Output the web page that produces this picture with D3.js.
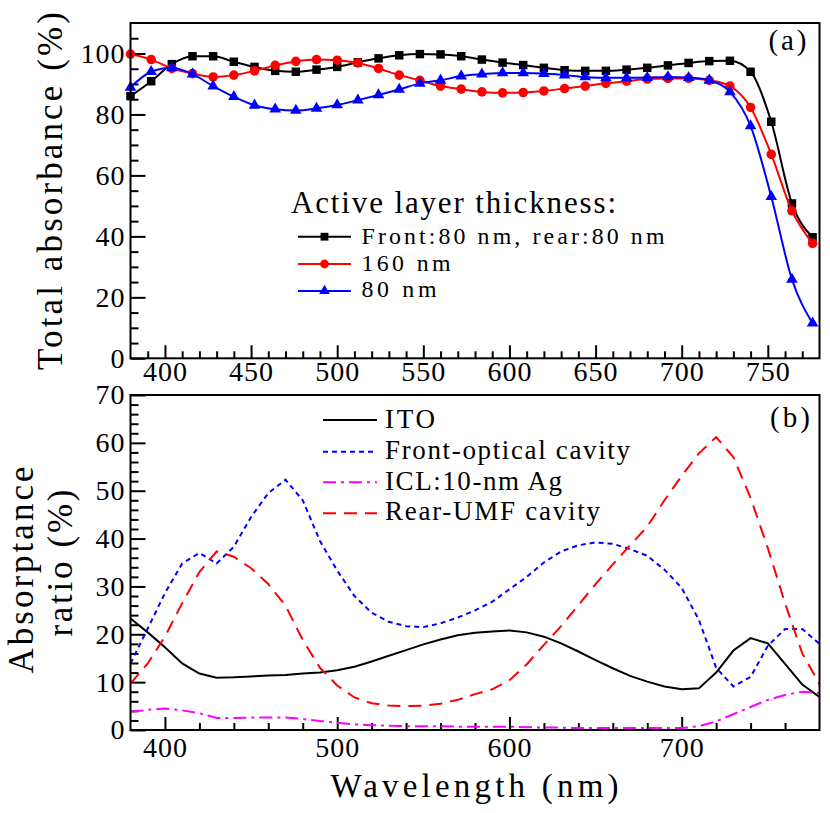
<!DOCTYPE html>
<html><head><meta charset="utf-8">
<script src="https://cdn.jsdelivr.net/npm/d3@7"></script>
<style>
body{margin:0;background:#fff}
svg text{font-family:"Liberation Serif","Times New Roman",serif;fill:#000}
</style>
</head><body>
<svg id="chart" width="830" height="813"></svg>
<script>
// ---------- Panel (a): total absorbance ----------
const markerWavelengths = [380,392,404,416,428,440,452,464,476,488,500,512,524,536,548,560,572,584,596,608,620,632,644,656,668,680,692,704,716,728,740,752,764,776];
const absFrontRear = [86.0,90.9,96.5,99.1,99.1,97.3,95.6,94.3,94.0,94.7,95.6,97.1,98.4,99.4,99.8,99.7,99.1,98.0,97.0,96.2,95.3,94.5,94.3,94.3,94.7,95.3,96.1,96.9,97.5,97.6,94.0,77.6,50.8,39.7];
const abs160 = [99.8,98.0,95.1,93.4,92.3,92.9,94.3,96.1,97.4,98.0,97.8,96.9,95.1,92.9,91.2,89.3,88.3,87.4,87.1,87.2,87.7,88.5,89.3,90.2,90.9,91.6,91.8,91.8,91.2,89.3,82.3,66.9,48.4,37.7];
const abs80 = [88.9,94.0,95.3,93.2,89.3,85.8,83.0,81.7,81.3,82.0,83.1,84.7,86.4,88.2,90.2,91.2,92.6,93.2,93.6,93.6,93.4,92.9,92.3,92.0,92.0,92.1,92.3,92.1,91.2,87.4,76.2,53.0,25.9,11.5];
const legendATitle = "Active layer thickness:";
const legendALabels = ["Front:80 nm, rear:80 nm","160 nm","80 nm"];
const topXTicks = [400,450,500,550,600,650,700,750];
const topYTicks = [0,20,40,60,80,100];

// ---------- Panel (b): absorptance ratio ----------
const ratioWavelengths = [380,390,400,410,420,430,440,450,460,470,480,490,500,510,520,530,540,550,560,570,580,590,600,610,620,630,640,650,660,670,680,690,700,710,720,730,740,750,760,770,780];
const ratioITO = [23.3,20.4,17.3,13.9,11.8,10.9,11.0,11.2,11.4,11.5,11.8,12.0,12.5,13.2,14.3,15.5,16.7,17.9,18.9,19.8,20.3,20.6,20.8,20.4,19.5,18.1,16.4,14.6,12.9,11.3,10.1,9.1,8.5,8.7,12.0,16.6,19.2,18.1,13.8,9.5,6.9];
const ratioFront = [13.9,21.2,28.6,34.8,37.0,34.8,38.3,44.5,49.5,52.3,48.0,39.5,33.3,28.0,24.5,22.6,21.7,21.5,22.3,23.5,25.0,26.8,29.4,32.0,35.0,37.3,38.6,39.2,38.9,37.8,36.4,33.5,29.7,23.0,13.0,9.1,11.1,17.6,21.1,21.1,18.0];
const ratioICL = [3.8,4.2,4.5,4.1,3.5,2.5,2.5,2.6,2.6,2.6,2.3,1.9,1.5,1.2,1.0,0.9,0.8,0.8,0.8,0.7,0.7,0.7,0.7,0.6,0.5,0.5,0.4,0.4,0.4,0.4,0.4,0.4,0.4,0.8,1.8,3.3,4.8,6.3,7.3,8.0,7.7];
const ratioRear = [9.7,13.9,19.5,26.5,33.0,37.3,36.2,33.8,30.5,26.0,18.8,13.0,9.3,6.8,5.6,5.1,5.0,5.1,5.5,6.3,7.5,8.5,10.4,13.7,17.8,21.7,26.1,30.5,34.6,38.6,42.5,48.0,53.1,57.8,61.2,57.0,48.5,38.0,26.5,16.0,9.6];
const legendBLabels = ["ITO","Front-optical cavity","ICL:10-nm Ag","Rear-UMF cavity"];
const bottomXTicks = [400,500,600,700];
const bottomYTicks = [0,10,20,30,40,50,60,70];

// ---------- layout ----------
const svg = d3.select("#chart");
const L = 130.5, R = 819.5;
const x = d3.scaleLinear().domain([380,780]).range([L,R]);
const yA = d3.scaleLinear().domain([0,110]).range([358.3,23]);
const yB = d3.scaleLinear().domain([0,70]).range([730,395]);

function addText(g, o){
  const t = g.append("text").text(o.text)
    .attr("font-size", o.size)
    .attr("text-anchor", o.anchor || "start");
  if (o.rotate){
    t.attr("transform", `translate(${o.x},${o.y}) rotate(-90)`);
  } else {
    t.attr("x", o.x).attr("y", o.y);
  }
  if (o.len) t.attr("textLength", o.len).attr("lengthAdjust","spacing");
  return t;
}

function styleAxis(g, fontSize){
  g.select(".domain").remove();
  g.selectAll("line").attr("stroke","#000").attr("stroke-width",2);
  g.selectAll("text").attr("font-size",fontSize).attr("font-family",'"Liberation Serif",serif')
   .attr("letter-spacing","1px").attr("fill","#000");
}

function axes(yScale, xMajor, xMinor, yMajor, yMinor, xPad){
  const y0 = yScale.range()[0];
  const gxm = svg.append("g").attr("transform",`translate(0,${y0})`)
    .call(d3.axisBottom(x).tickValues(xMinor).tickSize(-7).tickFormat(""));
  styleAxis(gxm, 28);
  const gx = svg.append("g").attr("transform",`translate(0,${y0})`)
    .call(d3.axisBottom(x).tickValues(xMajor).tickSize(-13).tickPadding(xPad).tickFormat(d3.format("d")));
  styleAxis(gx, 28);
  const gym = svg.append("g").attr("transform",`translate(${L},0)`)
    .call(d3.axisLeft(yScale).tickValues(yMinor).tickSize(-8).tickFormat(""));
  styleAxis(gym, 28);
  const gy = svg.append("g").attr("transform",`translate(${L},0)`)
    .call(d3.axisLeft(yScale).tickValues(yMajor).tickSize(-15).tickPadding(5).tickFormat(d3.format("d")));
  styleAxis(gy, 28);
}

// ---------- Panel (a) ----------
axes(yA, topXTicks,
  d3.range(390,780,10).filter(v => v % 50 !== 0),
  topYTicks,
  d3.range(5,110,5).filter(v => v % 20 !== 0), 3);

const seriesA = [
  {vals: absFrontRear, color:"#000000", sym:d3.symbolSquare, size:72},
  {vals: abs160, color:"#ff0000", sym:d3.symbolCircle, size:72},
  {vals: abs80, color:"#0000ff", sym:d3.symbolTriangle, size:58}
];
const lineA = d3.line().curve(d3.curveMonotoneX).x(d => x(d[0])).y(d => yA(d[1]));
seriesA.forEach(s => {
  const pts = markerWavelengths.map((w,i) => [w, s.vals[i]]);
  svg.append("path").datum(pts).attr("d", lineA)
    .attr("fill","none").attr("stroke",s.color).attr("stroke-width",2);
  svg.append("g").selectAll("path").data(pts).join("path")
    .attr("transform", d => `translate(${x(d[0])},${yA(d[1])})`)
    .attr("d", d3.symbol().type(s.sym).size(s.size)())
    .attr("fill", s.color);
});

// legend (a)
addText(svg, {text:legendATitle, x:291, y:213, size:31, len:325});
const legAY = [236.7, 264, 291];
const legABase = [244, 270.5, 297];
const legALen = [303, 89, 75];
seriesA.forEach((s,i) => {
  svg.append("line").attr("x1",298).attr("x2",351).attr("y1",legAY[i]).attr("y2",legAY[i])
    .attr("stroke",s.color).attr("stroke-width",2);
  svg.append("path").attr("transform",`translate(324.5,${legAY[i]})`)
    .attr("d", d3.symbol().type(s.sym).size(s.size*0.85)()).attr("fill",s.color);
  addText(svg, {text:legendALabels[i], x:361.5, y:legABase[i], size:23.9, len:legALen[i]});
});
addText(svg, {text:"(a)", x:768.5, y:49.5, size:29, len:38});

svg.append("rect").attr("x",L).attr("y",yA(110)).attr("width",R-L).attr("height",yA(0)-yA(110))
  .attr("fill","none").attr("stroke","#000").attr("stroke-width",2);

// ---------- Panel (b) ----------
axes(yB, bottomXTicks,
  d3.range(400,780,20).filter(v => v % 100 !== 0),
  bottomYTicks,
  d3.range(2,70,2).filter(v => v % 10 !== 0), 7);

const seriesB = [
  {vals: ratioITO, color:"#000000", dash:null},
  {vals: ratioFront, color:"#0000ff", dash:"5,4"},
  {vals: ratioICL, color:"#ff00ff", dash:"13,5,3,5"},
  {vals: ratioRear, color:"#ff0000", dash:"13,8"}
];
const lineB = d3.line().x(d => x(d[0])).y(d => yB(d[1]));
seriesB.forEach(s => {
  const pts = ratioWavelengths.map((w,i) => [w, s.vals[i]]);
  const p = svg.append("path").datum(pts).attr("d", lineB)
    .attr("fill","none").attr("stroke",s.color).attr("stroke-width",2);
  if (s.dash) p.attr("stroke-dasharray", s.dash);
});

const legBY = [420, 451.7, 482.3, 513.3];
const legBBase = [428.3, 459.3, 490, 520];
const legBLen = [50, 245, 177, 215];
seriesB.forEach((s,i) => {
  const ln = svg.append("line").attr("x1",323).attr("x2",377).attr("y1",legBY[i]).attr("y2",legBY[i])
    .attr("stroke",s.color).attr("stroke-width",2);
  if (s.dash) ln.attr("stroke-dasharray", s.dash);
  addText(svg, {text:legendBLabels[i], x:385, y:legBBase[i], size:27, len:legBLen[i]});
});
addText(svg, {text:"(b)", x:770, y:427, size:29, len:40});

svg.append("rect").attr("x",L).attr("y",yB(70)).attr("width",R-L).attr("height",yB(0)-yB(70))
  .attr("fill","none").attr("stroke","#000").attr("stroke-width",2);

// ---------- axis titles ----------
addText(svg, {text:"Total absorbance (%)", x:61.7, y:191, size:35, len:358, anchor:"middle", rotate:true});
addText(svg, {text:"Absorptance", x:33.3, y:570, size:35, len:207, anchor:"middle", rotate:true});
addText(svg, {text:"ratio (%)", x:71.7, y:563, size:35, len:147, anchor:"middle", rotate:true});
addText(svg, {text:"Wavelength (nm)", x:474.5, y:796.7, size:33, len:288, anchor:"middle"});
</script>
</body></html>
